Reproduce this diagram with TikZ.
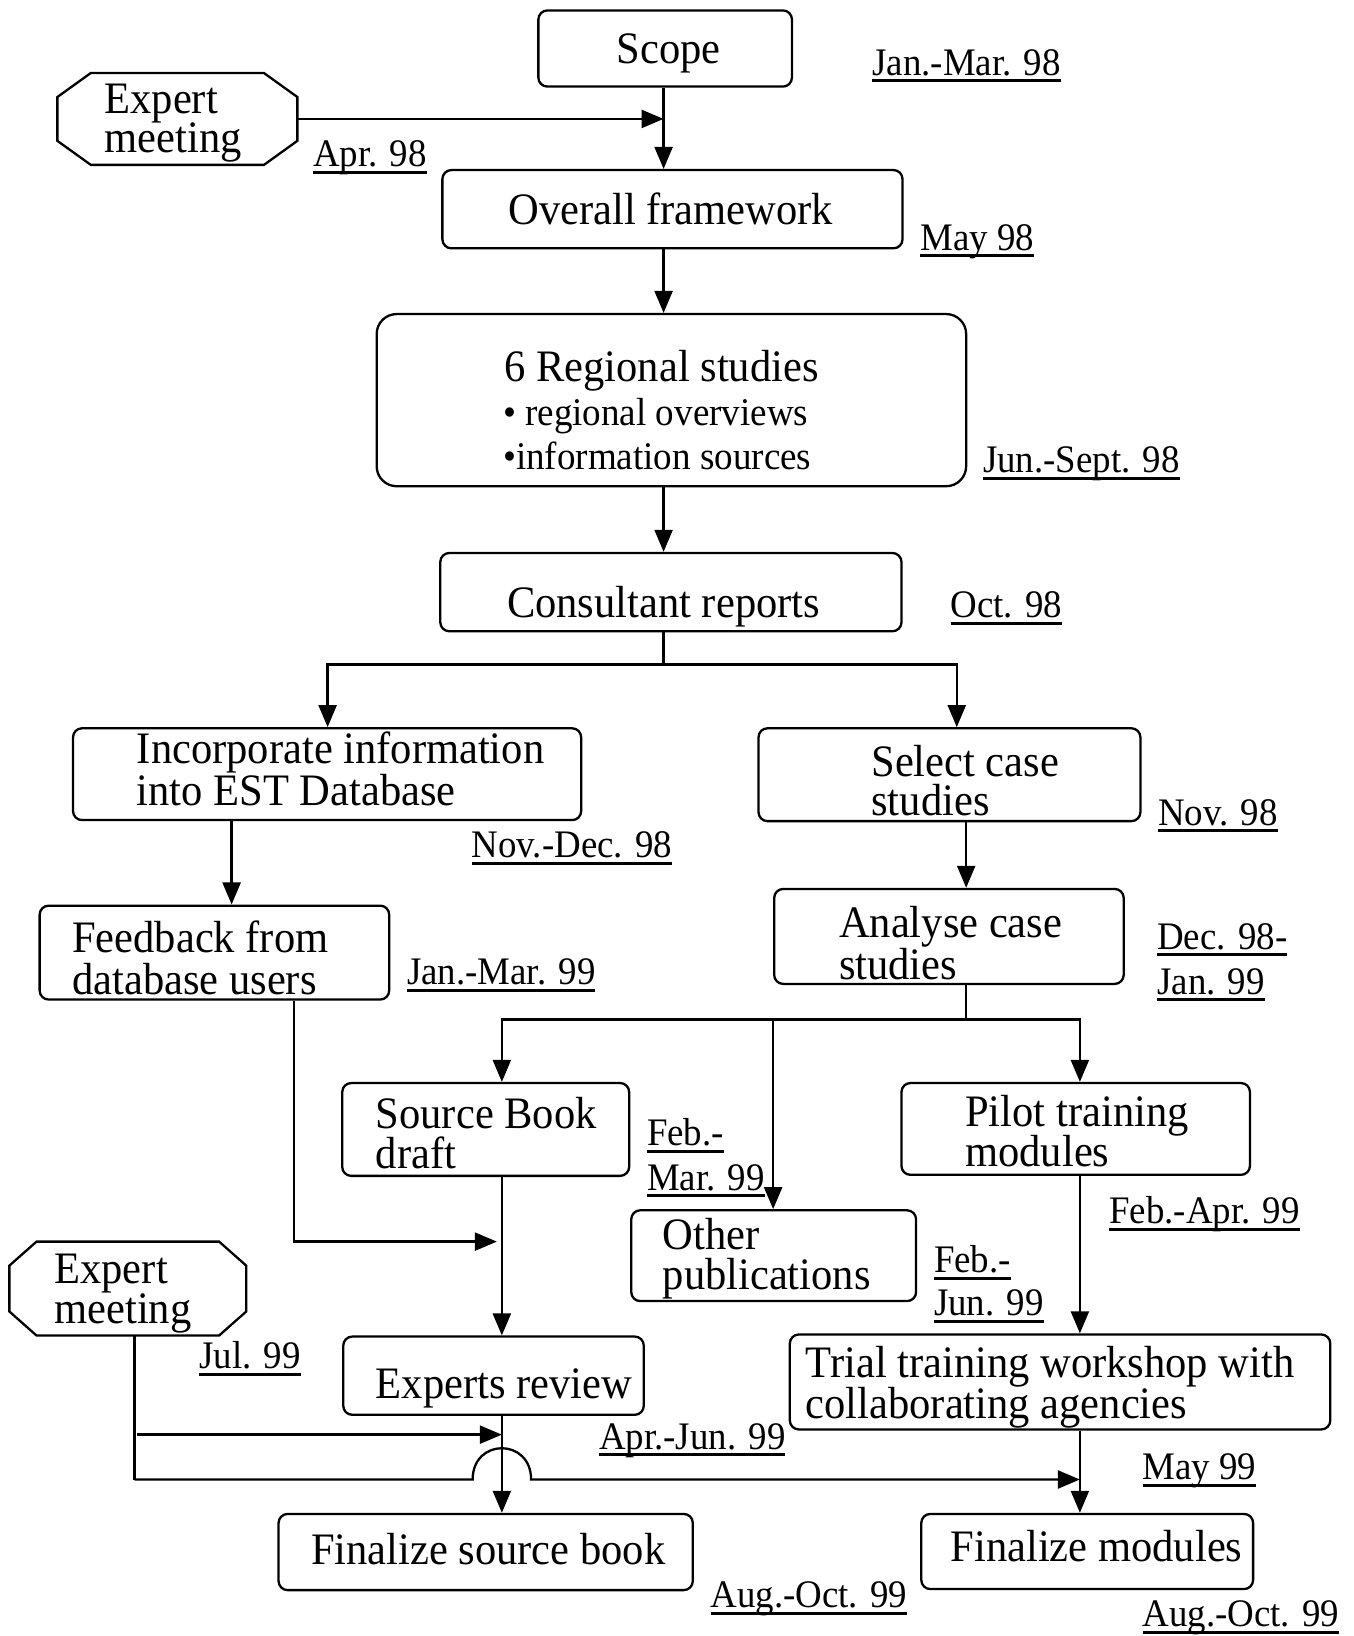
\documentclass[tikz,border=0pt]{standalone}
\usepackage{fontspec}
\setmainfont{Liberation Serif}[FakeStretch=0.945]
\usetikzlibrary{arrows.meta,fit,calc}

% underlined date with a heavy rule just below the baseline
\newcommand\dateline[1]{\vtop{\hbox{\raisebox{0pt}[\height][0pt]{#1}}\kern4pt\hrule height 3pt}}

\tikzset{
  box/.style={draw, line width=2.3pt, rounded corners=9pt, inner sep=0pt, rectangle},
  octo/.style={draw, line width=2.3pt, line join=miter},
  txt/.style={anchor=base west, inner sep=0pt, font=\fontsize{45}{48}\selectfont},
  ctxt/.style={anchor=base, inner sep=0pt, font=\fontsize{45}{48}\selectfont},
  bul/.style={anchor=base west, inner sep=0pt, font=\fontsize{39.2}{42}\selectfont},
  datel/.style={anchor=base west, inner sep=0pt, font=\fontsize{39}{42}\selectfont},
  conn/.style={line width=2.3pt},
  arr/.style={conn, -{Triangle[length=22pt,width=18pt]}},
}

\begin{document}
\begin{tikzpicture}[x=1.0432pt, y=-1.0432pt]
\useasboundingbox (0,0) rectangle (1297,1568);

% ---- boxes ----
\node[box, fit={(516,10) (759,83)}] (scope) {};
\node[box, fit={(424,163) (865,238)}] (frame) {};
\node[box, rounded corners=20pt, fit={(361,301) (926,466)}] (reg) {};
\node[box, fit={(422,530) (864,605)}] (cons) {};
\node[box, fit={(70,698) (557,786)}] (incorp) {};
\node[box, fit={(727,698) (1093,787)}] (select) {};
\node[box, fit={(38,868) (373,958)}] (feedback) {};
\node[box, fit={(742,852) (1077,943)}] (analyse) {};
\node[box, fit={(328,1038) (603,1127)}] (source) {};
\node[box, fit={(864,1038) (1198,1126)}] (pilot) {};
\node[box, fit={(605,1160) (878,1247)}] (other) {};
\node[box, fit={(329,1281) (617,1356)}] (experts) {};
\node[box, fit={(757,1279) (1275,1370)}] (trial) {};
\node[box, fit={(267,1451) (664,1524)}] (finsrc) {};
\node[box, fit={(883,1451) (1201,1523)}] (finmod) {};

% ---- expert meeting octagons ----
\draw[octo] (87,70) -- (253,70) -- (285,93) -- (285,135) -- (253,158) -- (87,158) -- (55,135) -- (55,93) -- cycle;
\node[inner sep=0pt, fit={(55,70) (285,158)}] (em1) {};
\draw[octo] (35,1190) -- (210,1190) -- (236,1213) -- (236,1257) -- (210,1280) -- (35,1280) -- (9,1257) -- (9,1213) -- cycle;
\node[inner sep=0pt, fit={(9,1190) (236,1280)}] (em2) {};

% ---- box texts ----
\node[ctxt] (tScope) at (641,61) {Scope};
\node[txt] (tEm1a) at (100,109) {Expert};
\node[txt] (tEm1b) at (100,146) {meeting};
\node[ctxt] (tFrame) at (643,215) {Overall framework};
\node[ctxt] (tReg) at (634,366) {6 Regional studies};
\node[bul] (tRegA) at (482,408) {• regional overviews};
\node[bul] (tRegB) at (482,450) {•information sources};
\node[ctxt] (tCons) at (636,592) {Consultant reports};
\node[txt] (tIncA) at (131,732) {Incorporate information};
\node[txt] (tIncB) at (131,772) {into EST Database};
\node[txt] (tSelA) at (835,744) {Select case};
\node[txt] (tSelB) at (835,782) {studies};
\node[txt] (tFbA) at (69,913) {Feedback from};
\node[txt] (tFbB) at (69,953) {database users};
\node[txt] (tAnA) at (804,899) {Analyse case};
\node[txt] (tAnB) at (804,939) {studies};
\node[txt] (tSrcA) at (360,1082) {Source Book};
\node[txt] (tSrcB) at (360,1120) {draft};
\node[txt] (tPilA) at (925,1080) {Pilot training};
\node[txt] (tPilB) at (925,1118) {modules};
\node[txt] (tOthA) at (635,1198) {Other};
\node[txt] (tOthB) at (635,1236) {publications};
\node[txt] (tEm2a) at (52,1230) {Expert};
\node[txt] (tEm2b) at (52,1268) {meeting};
\node[txt] (tExp) at (360,1340) {Experts review};
\node[txt] (tTriA) at (772,1320) {Trial training workshop with};
\node[txt] (tTriB) at (772,1360) {collaborating agencies};
\node[txt] (tFinS) at (298,1499) {Finalize source book};
\node[txt] (tFinM) at (911,1497) {Finalize modules};

% ---- dates ----
\node[datel] (d1) at (836,72) {\dateline{Jan.-Mar. 98}};
\node[datel] (d2) at (300,160) {\dateline{Apr. 98}};
\node[datel] (d3) at (882,240) {\dateline{May 98}};
\node[datel] (d4) at (942,453) {\dateline{Jun.-Sept. 98}};
\node[datel] (d5) at (911,592) {\dateline{Oct. 98}};
\node[datel] (d6) at (452,822) {\dateline{Nov.-Dec. 98}};
\node[datel] (d7) at (1110,791) {\dateline{Nov. 98}};
\node[datel] (d8) at (390,944) {\dateline{Jan.-Mar. 99}};
\node[datel] (d9a) at (1109,910) {\dateline{Dec. 98-}};
\node[datel] (d9b) at (1109,953) {\dateline{Jan. 99}};
\node[datel] (d10a) at (620,1098) {\dateline{Feb.-}};
\node[datel] (d10b) at (620,1141) {\dateline{Mar. 99}};
\node[datel] (d11) at (1063,1173) {\dateline{Feb.-Apr. 99}};
\node[datel] (d12a) at (895,1220) {\dateline{Feb.-}};
\node[datel] (d12b) at (895,1261) {\dateline{Jun. 99}};
\node[datel] (d13) at (191,1312) {\dateline{Jul. 99}};
\node[datel] (d14) at (574,1389) {\dateline{Apr.-Jun. 99}};
\node[datel] (d15) at (1095,1418) {\dateline{May 99}};
\node[datel] (d16) at (681,1541) {\dateline{Aug.-Oct. 99}};
\node[datel] (d17) at (1095,1559) {\dateline{Aug.-Oct. 99}};

% ---- connector columns and junctions ----
\coordinate (cE) at (636,0);
\coordinate (cI) at (314,0);
\coordinate (cJ) at (917,0);
\coordinate (cF) at (222,0);
\coordinate (cD) at (926,0);
\coordinate (cA) at (481,0);
\coordinate (cB) at (1035,0);
\coordinate (cC) at (741,0);
\coordinate (cG) at (282,0);
\coordinate (cH) at (129,0);
\coordinate (jA) at (636,637);
\coordinate (jB) at (926,977);
\coordinate (jC) at (282,1190);
\coordinate (jD) at (131,1375);
\coordinate (jE) at (129,1418);

% ---- connectors ----
\draw[arr] (em1.east) -- (em1.east -| cE);
\draw[arr] (cE |- scope.south) -- (cE |- frame.north);
\draw[arr] (cE |- frame.south) -- (cE |- reg.north);
\draw[arr] (cE |- reg.south) -- (cE |- cons.north);
\draw[conn] (cE |- cons.south) -- (jA);
\draw[arr] (jA) -| (cI |- incorp.north);
\draw[arr] (jA) -| (cJ |- select.north);
\draw[arr] (cF |- incorp.south) -- (cF |- feedback.north);
\draw[arr] (cD |- select.south) -- (cD |- analyse.north);
\draw[conn] (cD |- analyse.south) -- (jB);
\draw[arr] (jB) -| (cA |- source.north);
\draw[arr] (jB) -| (cB |- pilot.north);
\draw[arr] (cC |- jB) -- (cC |- other.north);
\draw[arr, shorten >=5pt] (cG |- feedback.south) -- (jC) -- (jC -| cA);
\draw[arr] (cA |- source.south) -- (cA |- experts.north);
\draw[arr] (cA |- experts.south) -- (cA |- finsrc.north);
\draw[conn] (cH |- em2.south) -- (jE);
\draw[arr] (jD) -- (jD -| cA);
\draw[arr] (jE) -- ($(jE -| cA)+(-28,0)$) .. controls +(0,-40) and +(0,-40) .. ($(jE -| cA)+(28,0)$) -- (jE -| cB);
\draw[arr] (cB |- pilot.south) -- (cB |- trial.north);
\draw[arr] (cB |- trial.south) -- (cB |- finmod.north);
\end{tikzpicture}
\end{document}
